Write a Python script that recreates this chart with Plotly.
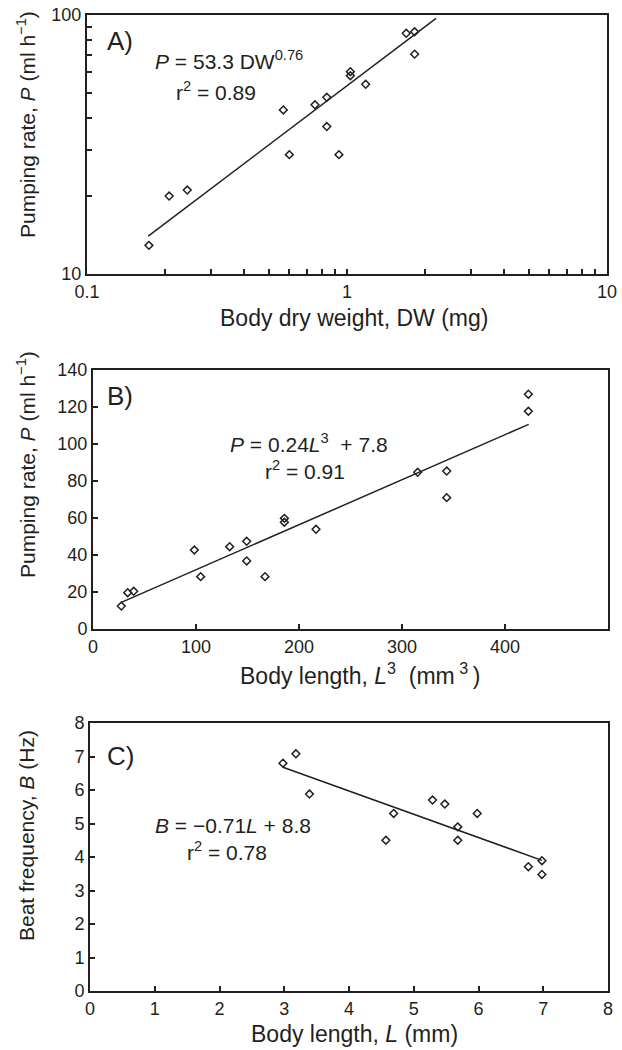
import plotly.graph_objects as go

# ---------------- data ----------------
# Panel A: body dry weight (mg) vs pumping rate (ml/h), log-log
dw_A = [0.173, 0.207, 0.243, 0.569, 0.600, 0.753, 0.836, 0.836, 0.931, 1.03, 1.03, 1.18, 1.69, 1.82, 1.82]
p_A = [12.9, 20.0, 21.1, 43.0, 28.9, 45.0, 48.1, 37.1, 28.9, 60.4, 58.3, 54.0, 85.0, 86.1, 70.6]
fit_A_x = [0.172, 2.2]
fit_A_y = [14.0, 97.0]

# Panel B: L^3 (mm^3) vs pumping rate
l3_B = [27.5, 33.7, 39.5, 98.4, 104.5, 132.7, 149.2, 149.2, 167.0, 185.8, 185.8, 216.5, 315.2, 343.4, 343.4, 422.7, 422.7]
p_B = [12.4, 19.6, 20.4, 42.7, 28.3, 44.5, 47.4, 36.8, 28.3, 59.8, 57.7, 53.9, 84.7, 85.4, 71.0, 126.9, 117.7]
fit_B_x = [27.5, 423.0]
fit_B_y = [14.4, 110.6]

# Panel C: body length (mm) vs beat frequency (Hz)
l_C = [2.98, 3.18, 3.39, 4.57, 4.69, 5.29, 5.48, 5.68, 5.68, 5.98, 6.77, 6.98, 6.98]
b_C = [6.80, 7.08, 5.88, 4.50, 5.30, 5.70, 5.58, 4.90, 4.50, 5.30, 3.71, 3.89, 3.48]
fit_C_x = [2.98, 6.98]
fit_C_y = [6.68, 3.90]

# tick values / labels for the log panel
a_xticks = [0.1, 1, 10]
a_xlabels = ["0.1", "1", "10"]
a_xminor = [0.2, 0.3, 0.4, 0.5, 0.6, 0.7, 0.8, 0.9, 2, 3, 4, 5, 6, 7, 8, 9]
a_yticks = [10, 100]
a_ylabels = ["10", "100"]
a_yminor = [20, 30, 40, 50, 60, 70, 80, 90]

# ---------------- styling ----------------
W, H = 622, 1050
INK = "#231f20"
FONT = "Liberation Sans, Arial, Helvetica, sans-serif"


def px(x):
    return x / W


def py(y):
    return 1 - y / H


fig = go.Figure()

marker = dict(symbol="diamond-open", size=6, color=INK, line=dict(width=1.5, color=INK))
line = dict(color=INK, width=1.5)

fig.add_trace(go.Scatter(x=fit_A_x, y=fit_A_y, mode="lines", line=line, xaxis="x", yaxis="y"))
fig.add_trace(go.Scatter(x=dw_A, y=p_A, mode="markers", marker=marker, xaxis="x", yaxis="y"))
fig.add_trace(go.Scatter(x=fit_B_x, y=fit_B_y, mode="lines", line=line, xaxis="x2", yaxis="y2"))
fig.add_trace(go.Scatter(x=l3_B, y=p_B, mode="markers", marker=marker, xaxis="x2", yaxis="y2"))
fig.add_trace(go.Scatter(x=fit_C_x, y=fit_C_y, mode="lines", line=line, xaxis="x3", yaxis="y3"))
fig.add_trace(go.Scatter(x=l_C, y=b_C, mode="markers", marker=marker, xaxis="x3", yaxis="y3"))

common = dict(
    showline=True, linewidth=2, linecolor=INK, mirror=True,
    ticks="inside", ticklen=5, tickwidth=1.5, tickcolor=INK,
    showgrid=False, zeroline=False, automargin=False,
    tickfont=dict(family=FONT, size=18, color=INK),
)
minor_style = dict(ticks="inside", ticklen=5, tickwidth=1.5, tickcolor=INK, showgrid=False)

fig.update_layout(
    width=W, height=H,
    margin=dict(l=0, r=0, t=0, b=0),
    paper_bgcolor="white", plot_bgcolor="white",
    showlegend=False,
    xaxis=dict(common, type="log", range=[-1, 1], tickmode="array", tickvals=a_xticks, ticktext=a_xlabels,
               minor=dict(minor_style, tickmode="array", tickvals=a_xminor),
               domain=[px(87), px(607)], anchor="y"),
    yaxis=dict(common, type="log", range=[1, 2], tickmode="array", tickvals=a_yticks, ticktext=a_ylabels,
               minor=dict(minor_style, tickmode="array", tickvals=a_yminor),
               domain=[py(274), py(15)], anchor="x"),
    xaxis2=dict(common, range=[0, 500], dtick=100, tick0=0,
                domain=[px(93), px(608)], anchor="y2"),
    yaxis2=dict(common, range=[0, 140], dtick=20, tick0=0,
                domain=[py(629), py(370)], anchor="x2"),
    xaxis3=dict(common, range=[0, 8], dtick=1, tick0=0,
                domain=[px(90), px(608)], anchor="y3"),
    yaxis3=dict(common, range=[0, 8], dtick=1, tick0=0,
                domain=[py(991), py(723)], anchor="x3"),
)


def ann(text, x, y, size, xanchor="center", angle=0):
    fig.add_annotation(text=text, x=px(x), y=py(y), xref="paper", yref="paper",
                       xanchor=xanchor, yanchor="middle", showarrow=False, textangle=angle,
                       font=dict(family=FONT, size=size, color=INK))


# panel labels
ann("A)", 105, 41, 26, "left")
ann("B)", 105, 396, 26, "left")
ann("C)", 105, 756, 26, "left")

# equations
ann("<i>P</i> = 53.3 DW<sup>0.76</sup>", 153, 60, 21, "left")
ann("r<sup>2</sup> = 0.89", 174, 91, 21, "left")
ann("<i>P</i> = 0.24<i>L</i><sup>3</sup>&nbsp; + 7.8", 228, 443, 21, "left")
ann("r<sup>2</sup> = 0.91", 263, 470, 21, "left")
ann("<i>B</i> = −0.71<i>L</i> + 8.8", 153, 825, 21, "left")
ann("r<sup>2</sup> = 0.78", 185, 851, 21, "left")

# x-axis titles
ann("Body dry weight, DW (mg)", 354, 318, 23)
ann("Body length, <i>L</i><sup>3</sup>&nbsp; (mm<sup> 3 </sup>)", 360, 674, 23)
ann("Body length, <i>L</i> (mm)", 354, 1034, 23)

# y-axis titles
ann("Pumping rate, <i>P</i> (ml h<sup>−1</sup>)", 26, 125, 21, angle=-90)
ann("Pumping rate, <i>P</i> (ml h<sup>−1</sup>)", 26, 465, 21, angle=-90)
ann("Beat frequency, <i>B</i> (Hz)", 26, 836, 21, angle=-90)

fig.write_html("out.html")
